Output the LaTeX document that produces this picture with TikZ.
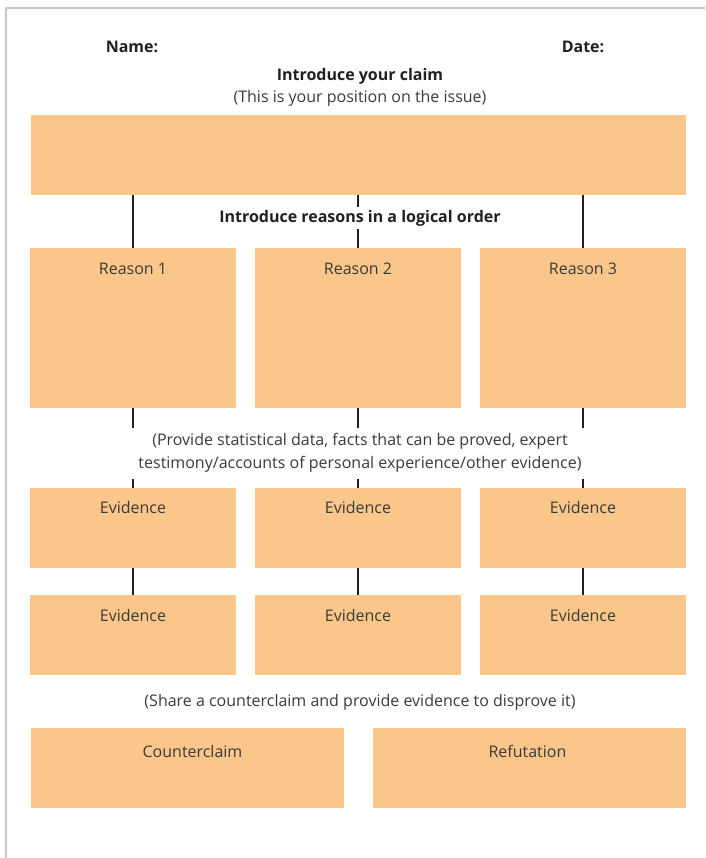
\documentclass[tikz,border=0pt]{standalone}
\usepackage{fontspec}
\setmainfont{Open Sans}
\definecolor{boxfill}{HTML}{FBC689}
\definecolor{txt}{HTML}{3A3A3A}
\definecolor{lineclr}{HTML}{231F20}
\definecolor{frame}{HTML}{C8C8C8}
\begin{document}
\begin{tikzpicture}[x=1pt,y=-1pt,
  box/.style={fill=boxfill, draw=none, inner sep=0pt},
  lbl/.style={text=txt, font=\fontsize{16}{19}\selectfont, inner sep=0pt},
  head/.style={text=lineclr, font=\fontsize{16}{19}\selectfont\bfseries, inner sep=0pt},
  note/.style={text=txt, font=\fontsize{16}{23}\selectfont, align=center},
  conn/.style={draw=lineclr, line width=2pt}]
\useasboundingbox (0,0) rectangle (705,858);
\draw[frame, line width=1.5pt] (6,858) -- (6,8) -- (705,8);
% texts at top
\node[head] (name) at (132,47) {Name:};
\node[head] (date) at (583,47) {Date:};
\node[head] (claimhead) at (360,76) {Introduce your claim};
\node[lbl] (claimnote) at (360,98) {(This is your position on the issue)};
% boxes
\node[box, minimum width=655pt, minimum height=80pt] (claim) at (358.5,155) {};
\node[box, minimum width=206pt, minimum height=160pt] (r1) at (133,328) {};
\node[box, minimum width=206pt, minimum height=160pt] (r2) at (358,328) {};
\node[box, minimum width=206pt, minimum height=160pt] (r3) at (583,328) {};
\node[box, minimum width=206pt, minimum height=80pt] (e1) at (133,528) {};
\node[box, minimum width=206pt, minimum height=80pt] (e2) at (358,528) {};
\node[box, minimum width=206pt, minimum height=80pt] (e3) at (583,528) {};
\node[box, minimum width=206pt, minimum height=80pt] (f1) at (133,635) {};
\node[box, minimum width=206pt, minimum height=80pt] (f2) at (358,635) {};
\node[box, minimum width=206pt, minimum height=80pt] (f3) at (583,635) {};
\node[box, minimum width=313pt, minimum height=80pt] (cc) at (187.5,768) {};
\node[box, minimum width=313pt, minimum height=80pt] (rf) at (529.5,768) {};
% connectors
\draw[conn] (r1.north |- claim.south) -- (r1.north);
\draw[conn] (r2.north |- claim.south) -- (r2.north);
\draw[conn] (r3.north |- claim.south) -- (r3.north);
\draw[conn] (r1.south) -- (e1.north);
\draw[conn] (r2.south) -- (e2.north);
\draw[conn] (r3.south) -- (e3.north);
\draw[conn] (e1.south) -- (f1.north);
\draw[conn] (e2.south) -- (f2.north);
\draw[conn] (e3.south) -- (f3.north);
% notes covering connectors
\node[head, fill=white, inner xsep=4pt, inner ysep=0pt, minimum height=22pt] (reasonshead) at (360,218) {Introduce reasons in a logical order};
\node[note, fill=white, inner xsep=6pt, inner ysep=3pt, minimum height=51pt, minimum width=462pt] (evnote) at (360,453) {(Provide statistical data, facts that can be proved, expert\\testimony/accounts of personal experience/other evidence)};
\node[lbl] (ccnote) at (360,702) {(Share a counterclaim and provide evidence to disprove it)};
% box labels
\node[lbl] at ([yshift=-21pt]r1.north) {Reason 1};
\node[lbl] at ([yshift=-21pt]r2.north) {Reason 2};
\node[lbl] at ([yshift=-21pt]r3.north) {Reason 3};
\node[lbl] at ([yshift=-20pt]e1.north) {Evidence};
\node[lbl] at ([yshift=-20pt]e2.north) {Evidence};
\node[lbl] at ([yshift=-20pt]e3.north) {Evidence};
\node[lbl] at ([yshift=-21pt]f1.north) {Evidence};
\node[lbl] at ([yshift=-21pt]f2.north) {Evidence};
\node[lbl] at ([yshift=-21pt]f3.north) {Evidence};
\node[lbl] at ([xshift=5pt,yshift=-24pt]cc.north) {Counterclaim};
\node[lbl] at ([xshift=-2pt,yshift=-24pt]rf.north) {Refutation};
\end{tikzpicture}
\end{document}
